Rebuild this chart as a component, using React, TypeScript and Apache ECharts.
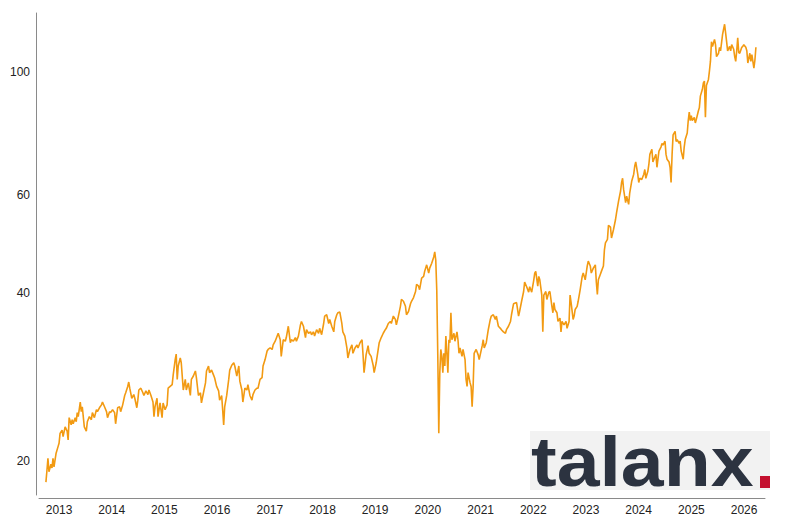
import React, { useEffect, useRef } from "react";
import * as echarts from "echarts";

// Weekly closes as [weeks since IPO (2012-10-02), price in EUR]
const closes2012to2014: [number, number][] = [
  [0,18.3],[1,19.2],[2,20.2],[3,19.1],[5,19.7],[6,19.4],[7,20.2],[8,19.5],[10,20.6],[12,21.2],[13,21.5],[14,22.4],[16,22.7],[17,22.1],[19,23.0],[21,22.6],[22,21.8],[23,23.9],[25,23.2],[26,23.7],[27,23.3],[29,23.9],[30,23.5],[31,24.4],[32,24.0],[34,25.5],[35,24.5],[36,25.0],[38,23.0],[40,22.6],[41,23.5],[43,24.0],[45,23.7],[46,24.4],[48,23.9],[50,24.7],[51,24.5],[53,24.9],[55,25.2],[56,25.5],[58,25.0],[60,24.5],[61,23.9],[63,24.5],[64,24.4],[66,24.7],[68,24.4],[69,23.3],[71,24.9],[73,25.0],[74,24.5],[76,25.2],[78,26.2],[79,26.5],[81,27.2],[82,27.7],[83,27.0],[85,25.9],[87,26.3],[88,25.9],[90,24.9],[91,25.7],[92,26.8],[94,27.0],[96,26.5],[97,26.2],[99,26.7],[101,26.3],[102,26.8],[104,26.2],[106,25.5],[107,24.0],[108,25.0],[110,25.9],[111,24.0],[113,25.4],[115,23.9],[116,25.4]
];
const closes2015to2017: [number, number][] = [
  [118,24.7],[120,25.2],[121,27.0],[123,27.2],[125,27.4],[126,28.5],[128,30.4],[129,31.1],[130,28.0],[131,29.6],[133,30.6],[134,30.0],[136,26.8],[138,28.0],[139,26.8],[141,27.6],[143,26.2],[144,28.0],[146,28.4],[148,29.0],[149,28.2],[151,26.2],[153,26.5],[154,25.4],[156,26.5],[158,27.6],[159,29.0],[161,29.6],[162,28.8],[164,29.1],[166,28.5],[167,28.2],[169,27.2],[171,26.7],[172,25.7],[174,26.2],[175,24.7],[176,23.2],[177,25.0],[179,26.2],[181,28.0],[182,29.1],[184,29.7],[186,30.0],[187,29.6],[189,28.4],[191,29.6],[192,27.8],[194,26.8],[195,25.5],[197,27.0],[199,26.8],[200,27.4],[202,26.2],[204,25.7],[205,26.3],[207,26.8],[209,27.0],[210,27.0],[212,28.0],[214,28.2],[215,29.6],[217,30.4],[219,31.5],[220,31.7],[222,31.9],[224,31.7],[225,32.3],[227,32.8],[230,33.9],[232,33.0],[233,30.8],[235,33.0],[237,32.8],[238,33.3],[240,34.9],[242,32.6],[243,33.0],[245,32.8],[247,33.3],[248,32.8],[250,33.5],[252,35.1],[253,35.6],[255,34.9],[257,33.3],[258,34.4],[260,33.9],[262,34.1],[263,33.7],[265,34.1],[266,33.5],[268,34.4],[270,33.9],[271,34.6],[273,33.7]
];
const closes2018to2020: [number, number][] = [
  [275,35.3],[276,36.4],[278,36.6],[280,35.3],[281,35.9],[283,34.9],[285,34.1],[286,35.6],[288,36.6],[289,36.9],[291,37.0],[293,35.3],[294,34.1],[296,33.5],[298,31.9],[299,30.6],[301,31.7],[303,32.3],[304,31.2],[306,31.9],[308,32.3],[309,31.9],[311,32.6],[313,33.0],[314,31.0],[315,28.8],[317,31.0],[319,32.2],[320,31.2],[322,30.8],[324,29.7],[325,28.8],[327,30.0],[329,31.7],[330,32.6],[332,33.3],[334,33.9],[336,34.4],[337,34.6],[339,35.3],[341,35.6],[342,35.3],[344,36.4],[346,35.9],[347,35.1],[349,36.4],[351,37.9],[352,39.0],[354,38.7],[356,37.9],[357,36.6],[359,37.1],[361,38.3],[362,38.7],[364,39.3],[366,40.3],[367,41.5],[369,41.2],[370,40.6],[372,42.6],[374,42.9],[375,43.8],[377,45.0],[379,43.5],[380,44.4],[382,45.3],[384,46.5],[385,47.5],[386,45.9],[387,40.5],[388,31.0],[389,22.4],[390,28.8],[391,31.7],[392,30.8],[393,28.8],[394,31.2],[395,29.6],[396,33.5],[397,31.2],[398,28.8],[399,33.0],[400,32.6],[401,36.9],[402,33.0],[404,33.9],[405,32.8],[407,34.1],[408,33.0],[409,31.2],[410,31.9],[412,30.8],[413,31.7],[415,30.4],[416,28.0],[417,27.2],[418,28.8],[420,27.6],[421,27.2],[422,25.0],[423,27.2],[424,31.2],[426,31.7],[428,31.0],[429,30.4]
];
const closes2021to2023: [number, number][] = [
  [430,31.0],[432,32.2],[433,33.0],[434,31.9],[436,32.6],[437,33.5],[438,34.4],[440,35.9],[441,36.4],[443,36.6],[445,35.9],[446,36.4],[448,34.9],[450,34.6],[451,34.4],[453,34.1],[455,33.9],[456,34.4],[458,34.9],[460,35.6],[461,36.6],[463,38.3],[466,38.5],[468,36.4],[469,37.1],[471,38.7],[473,40.3],[474,41.9],[476,41.1],[478,40.2],[479,41.1],[481,40.2],[483,42.2],[484,43.5],[485,43.8],[487,41.2],[488,42.9],[489,42.3],[491,39.7],[492,34.1],[493,39.7],[495,40.3],[496,39.0],[498,40.2],[499,40.3],[501,37.9],[502,36.9],[503,38.5],[504,37.4],[506,36.9],[507,35.6],[509,36.1],[510,34.1],[511,35.6],[513,35.1],[515,35.6],[516,34.6],[518,35.6],[519,39.7],[520,38.5],[522,35.9],[523,36.4],[524,37.4],[526,37.9],[527,38.7],[529,40.6],[531,42.9],[532,43.5],[534,42.3],[536,44.8],[537,45.7],[539,44.8],[540,43.5],[542,44.4],[544,45.0],[545,41.9],[546,39.8],[547,42.3],[549,43.3],[550,43.8],[552,44.8],[553,47.9],[554,49.3],[556,50.0],[557,53.0],[559,52.6],[560,50.3],[562,52.1],[564,54.3],[565,55.8],[567,58.6],[569,61.1],[570,63.3],[571,64.4],[572,61.5],[574,58.2],[575,59.8],[577,57.8],[578,60.5],[580,63.6],[582,65.5],[583,67.7],[584,68.9],[586,65.5]
];
const closes2024to2026: [number, number][] = [
  [587,63.3],[588,64.4],[590,64.1],[592,65.5],[593,66.8],[594,64.4],[596,66.3],[597,68.2],[598,71.1],[600,72.6],[601,68.9],[602,69.7],[604,71.1],[605,67.4],[606,69.7],[607,72.1],[609,73.3],[610,74.4],[611,73.9],[613,75.1],[614,71.1],[615,69.7],[617,68.9],[618,67.4],[619,63.3],[620,71.1],[621,77.1],[623,78.2],[624,75.0],[625,75.6],[627,74.4],[628,75.1],[629,72.1],[631,69.7],[632,73.3],[633,75.6],[635,77.7],[636,81.8],[637,84.7],[638,81.8],[639,83.5],[640,81.8],[642,82.9],[643,81.0],[644,82.2],[646,85.1],[647,86.3],[648,90.5],[650,93.1],[651,95.6],[652,96.3],[653,82.9],[654,94.6],[656,97.0],[657,100.5],[658,104.6],[659,113.4],[660,111.2],[662,114.5],[663,112.0],[664,106.6],[666,108.1],[667,110.8],[668,109.2],[670,116.9],[671,119.4],[672,121.9],[673,117.6],[674,113.4],[675,109.2],[677,111.2],[678,109.2],[679,112.0],[681,109.9],[682,106.6],[683,104.5],[684,109.2],[685,115.2],[686,108.4],[687,108.1],[689,110.8],[690,111.2],[691,112.0],[693,110.8],[694,109.2],[695,103.8],[697,108.1],[698,104.5],[699,107.5],[701,101.6],[702,105.0],[703,110.8]
];

const yearLabels = [2013, 2014, 2015, 2016, 2017, 2018, 2019, 2020, 2021, 2022, 2023, 2024, 2025, 2026];
const priceTicks = [20, 40, 60, 100];

const DAY = 86400000;
const WEEK = 7 * DAY;

export default function App() {
  const ref = useRef<HTMLDivElement>(null);
  useEffect(() => {
    if (!ref.current) return;
    const chart = echarts.init(ref.current, null, { renderer: "svg" });
    const start = new Date(2012, 9, 2).getTime();
    const all = [
      ...closes2012to2014,
      ...closes2015to2017,
      ...closes2018to2020,
      ...closes2021to2023,
      ...closes2024to2026,
    ];
    const data = all.map(([w, v]) => [start + w * WEEK, v]);
    const yearTs = yearLabels.map((y) => new Date(y, 0, 1).getTime());
    const font = "Arial, 'Liberation Sans', sans-serif";

    chart.setOption({
      animation: false,
      backgroundColor: "#ffffff",
      grid: { left: 39, right: 35, top: 13, bottom: 25, containLabel: false },
      xAxis: {
        type: "value",
        min: new Date(2012, 7, 15).getTime(),
        max: new Date(2026, 4, 26).getTime(),
        offset: 3,
        axisLine: { show: true, lineStyle: { color: "#8a8a8a", width: 1 } },
        axisTick: { show: false },
        splitLine: { show: false },
        axisLabel: {
          customValues: yearTs,
          formatter: (v: number) => String(new Date(v).getFullYear()),
          color: "#222222",
          fontSize: 12,
          fontFamily: font,
          margin: 6,
          showMinLabel: true,
          showMaxLabel: true,
        },
      },
      yAxis: {
        type: "log",
        logBase: 10,
        min: 17.35,
        max: 127.7,
        offset: 3,
        axisLine: { show: true, lineStyle: { color: "#8a8a8a", width: 1 } },
        axisTick: { show: false },
        splitLine: { show: false },
        axisLabel: {
          customValues: priceTicks,
          formatter: (v: number) => String(Math.round(v)),
          color: "#222222",
          fontSize: 12,
          fontFamily: font,
          margin: 6,
        },
      },
      series: [
        {
          type: "line",
          data,
          showSymbol: false,
          symbol: "none",
          lineStyle: { color: "#F29A12", width: 1.6 },
          itemStyle: { color: "#F29A12" },
          z: 2,
        },
      ],
      graphic: [
        {
          type: "rect",
          left: 530,
          top: 431,
          shape: { width: 240, height: 59 },
          style: { fill: "#f2f2f2" },
          z: 10,
        },
        {
          type: "text",
          x: 531,
          y: 462,
          scaleX: 1.1,
          style: {
            text: "talanx",
            fill: "#2c3340",
            font: "bold 70px 'Liberation Sans', Arial, sans-serif",
            textAlign: "left",
            textVerticalAlign: "middle",
          },
          z: 11,
        },
        {
          type: "rect",
          left: 760,
          top: 476,
          shape: { width: 10, height: 12 },
          style: { fill: "#c4102f" },
          z: 11,
        },
      ],
    });
    return () => chart.dispose();
  }, []);
  return (
    <div
      ref={ref}
      style={{ position: "fixed", left: 0, top: 0, width: 800, height: 520 }}
    />
  );
}
